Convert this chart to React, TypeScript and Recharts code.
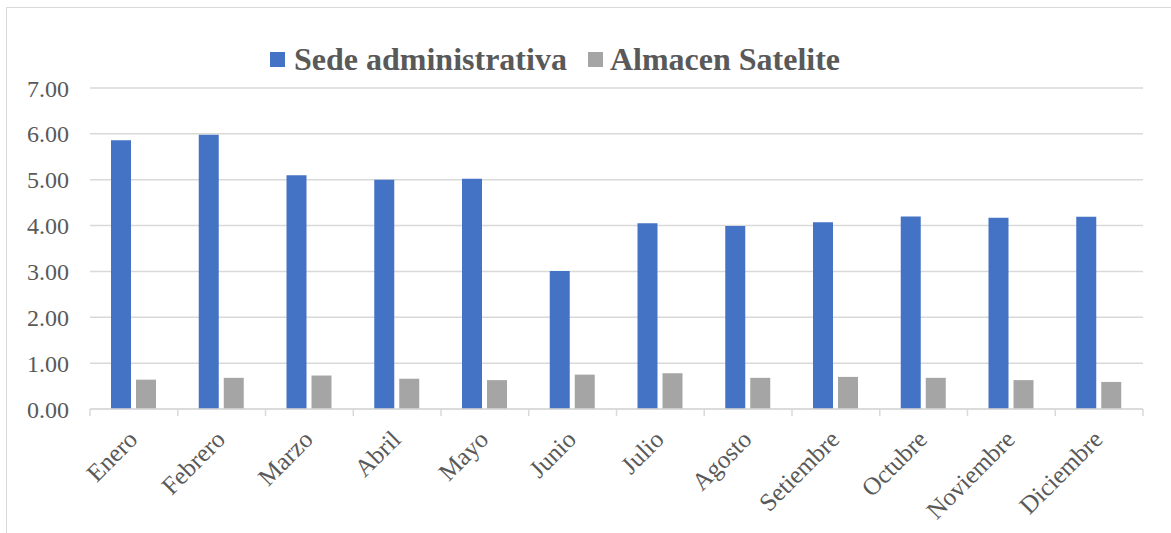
import React from "react";
import { BarChart, Bar, XAxis, YAxis, CartesianGrid, Legend } from "recharts";

const months = ["Enero", "Febrero", "Marzo", "Abril", "Mayo", "Junio", "Julio", "Agosto", "Setiembre", "Octubre", "Noviembre", "Diciembre"];
const sedeAdministrativa = [5.86, 5.98, 5.1, 5.0, 5.02, 3.01, 4.05, 3.99, 4.07, 4.2, 4.17, 4.19];
const almacenSatelite = [0.64, 0.68, 0.73, 0.66, 0.63, 0.75, 0.78, 0.68, 0.7, 0.68, 0.63, 0.59];
const yTicks = [0, 1, 2, 3, 4, 5, 6, 7];
const seriesNames = ["Sede administrativa", "Almacen Satelite"];
const seriesColors = ["#4472C4", "#A5A5A5"];

const data = months.map((m, i) => ({
  month: m,
  sede: sedeAdministrativa[i],
  almacen: almacenSatelite[i],
}));

const FONT = '"Liberation Serif", "Times New Roman", serif';
const TEXT = "#595959";
const GRID = "#d9d9d9";

const XTick = (props: any) => {
  const { x, y, payload, index } = props;
  const off = payload && typeof payload.offset === "number" ? payload.offset : 43.875;
  const ax = x + 5;
  const ay = y + 32;
  return (
    <g>
      <line x1={x - off} y1={y} x2={x - off} y2={y + 7} stroke={GRID} strokeWidth={1.5} />
      {index === months.length - 1 ? (
        <line x1={x + off} y1={y} x2={x + off} y2={y + 7} stroke={GRID} strokeWidth={1.5} />
      ) : null}
      <text
        x={ax}
        y={ay}
        transform={`rotate(-45, ${ax}, ${ay})`}
        textAnchor="end"
        fill={TEXT}
        fontSize={25}
        fontFamily={FONT}
      >
        {payload.value}
      </text>
    </g>
  );
};

const LegendContent = () => {
  return (
    <div style={{ display: "flex", alignItems: "center", fontFamily: FONT }}>
      {seriesNames.map((name, i) => (
        <div key={name} style={{ display: "flex", alignItems: "center", marginRight: 21 }}>
          <div style={{ width: 15, height: 15, background: seriesColors[i], marginRight: i === 0 ? 9 : 7 }} />
          <span style={{ fontSize: 32, lineHeight: "32px", fontWeight: "bold", color: TEXT, whiteSpace: "nowrap" }}>
            {name}
          </span>
        </div>
      ))}
    </div>
  );
};

export default function App() {
  return (
    <div style={{ position: "absolute", left: 0, top: 0, width: 1171, height: 533, overflow: "hidden", background: "#fff" }}>
      <div
        style={{
          position: "absolute",
          left: 6,
          top: 7,
          width: 1400,
          height: 800,
          borderLeft: `1.5px solid ${GRID}`,
          borderTop: `1.5px solid ${GRID}`,
        }}
      />
      <div style={{ position: "absolute", left: 0, top: 0 }}>
        <BarChart
          width={1171}
          height={533}
          data={data}
          margin={{ top: 88, right: 28, left: 0, bottom: 24 }}
          barSize={20}
          barGap={5}
        >
          <CartesianGrid vertical={false} stroke={GRID} strokeWidth={1.5} />
          <XAxis
            dataKey="month"
            height={100}
            interval={0}
            tickLine={false}
            tickSize={0}
            tickMargin={0}
            axisLine={{ stroke: GRID, strokeWidth: 1.5 }}
            tick={<XTick />}
          />
          <YAxis
            width={90}
            domain={[0, 7]}
            ticks={yTicks}
            interval={0}
            axisLine={false}
            tickLine={false}
            tickSize={6}
            tickMargin={15}
            tickFormatter={(v: number) => v.toFixed(2)}
            tick={{ fill: TEXT, fontSize: 24, fontFamily: FONT }}
          />
          <Legend
            layout="horizontal"
            verticalAlign="middle"
            align="center"
            wrapperStyle={{ top: 43, left: 270, width: "auto" }}
            content={<LegendContent />}
          />
          <Bar dataKey="sede" name={seriesNames[0]} fill={seriesColors[0]} isAnimationActive={false} />
          <Bar dataKey="almacen" name={seriesNames[1]} fill={seriesColors[1]} isAnimationActive={false} />
        </BarChart>
      </div>
    </div>
  );
}
